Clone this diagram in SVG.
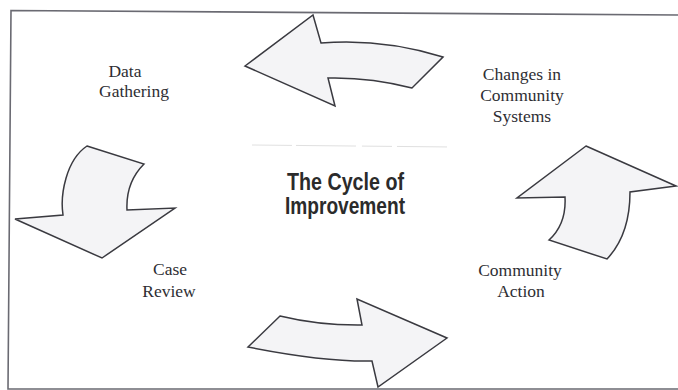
<svg xmlns="http://www.w3.org/2000/svg" width="678" height="390" viewBox="0 0 678 390">
  <style>
    .label { font-family: "Liberation Serif", "Times New Roman", serif; font-size: 17.5px; fill: #2e2e33; text-anchor: middle; }
    .title { font-family: "Liberation Sans", Arial, sans-serif; font-weight: bold; font-size: 23px; fill: #2b2b2b; }
    .arrow { fill: #f4f4f6; stroke: #3a3a40; stroke-width: 1.5; stroke-linejoin: miter; }
    .frame { fill: none; stroke: #6a6a72; stroke-width: 1.6; }
  </style>

  <rect width="678" height="390" fill="#ffffff"/>

  <!-- page frame -->
  <polyline class="frame" points="678,15 11,10.5 8,389 678,389"/>
  <!-- faint rule above the title -->
  <line x1="252" y1="145" x2="452" y2="147" stroke="#e0e0e0" stroke-width="1" stroke-dasharray="40 4 60 6 30 5 50"/>

  <!-- title -->
  <g id="title">
    <text class="title" x="287" y="190" textLength="117" lengthAdjust="spacingAndGlyphs">The Cycle of</text>
    <text class="title" x="285" y="214" textLength="120" lengthAdjust="spacingAndGlyphs">Improvement</text>
  </g>

  <!-- stages -->
  <g id="data-gathering">
    <text class="label" x="125" y="77">Data</text>
    <text class="label" x="134" y="97">Gathering</text>
  </g>
  <g id="changes-in-community-systems">
    <text class="label" x="522" y="80">Changes in</text>
    <text class="label" x="522" y="101">Community</text>
    <text class="label" x="522" y="122">Systems</text>
  </g>
  <g id="community-action">
    <text class="label" x="520" y="276">Community</text>
    <text class="label" x="521" y="297">Action</text>
  </g>
  <g id="case-review">
    <text class="label" x="170" y="275">Case</text>
    <text class="label" x="169" y="297">Review</text>
  </g>

  <!-- curved block arrows linking the stages -->
  <g id="connectors">
    <!-- top: towards Data Gathering -->
    <path class="arrow" d="M245,66 L313,15 L321,43 Q382,38 443,57 L412,88 Q370,77 328,78 L335,106 Z"/>
    <!-- left: down to Case Review -->
    <path class="arrow" d="M87,146 L144,164 C133,175 126,190 127,210 L175,208 L102,258 L15,219 L63,215 C60,195 66,160 87,146 Z"/>
    <!-- bottom: across to Community Action -->
    <path class="arrow" d="M280,316 Q319,325.5 362,325 L357,299 L447,338 L378,387 L372,361 Q324,362 248,347 Z"/>
    <!-- right: up to Changes in Community Systems -->
    <path class="arrow" d="M586,146 L676,186 L630,192 C630,215 625,240 607,259 L549,240 C560,230 566,215 565,197 L517,198 Z"/>
  </g>
</svg>
